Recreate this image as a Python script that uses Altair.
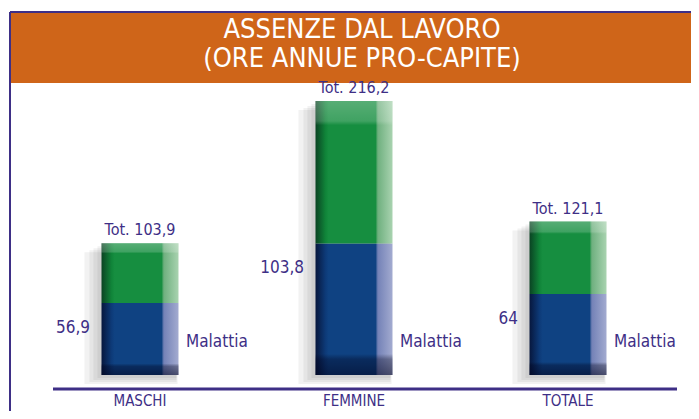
import altair as alt
import pandas as pd

categories = ["MASCHI", "FEMMINE", "TOTALE"]
malattia = [56.9, 103.8, 64.0]
totali = [103.9, 216.2, 121.1]
title_lines = ["ASSENZE DAL LAVORO", "(ORE ANNUE PRO-CAPITE)"]
serie_label = "Malattia"


def fmt(v):
    s = f"{v:.1f}".replace(".", ",")
    return s[:-2] if s.endswith(",0") else s


df = pd.DataFrame({
    "cat": categories,
    "malattia": malattia,
    "totale": totali,
    "tot_lbl": ["Tot. " + fmt(v) for v in totali],
    "mal_lbl": [fmt(v) for v in malattia],
    "serie": [serie_label] * len(categories),
})

FONT = "DejaVu Sans Condensed, Liberation Sans Narrow, sans-serif"
PURPLE = "#3E2F86"
ORANGE = "#CF6519"

xscale = alt.Scale(domain=categories, range=[25, 667], paddingInner=0, paddingOuter=0)
yscale = alt.Scale(domain=[0, 289.6], range=[367, 0], nice=False, zero=True)
X = alt.X("cat:N", sort=categories, scale=xscale, axis=None)


def Y(f):
    return alt.Y(f, scale=yscale, axis=None)


def hgrad(stops):
    return {"gradient": "linear", "x1": 0, "x2": 1, "y1": 0, "y2": 0,
            "stops": [{"offset": o, "color": c} for o, c in stops]}


def vgrad(stops):
    return {"gradient": "linear", "x1": 0, "x2": 0, "y1": 0, "y2": 1,
            "stops": [{"offset": o, "color": c} for o, c in stops]}


green = hgrad([(0, "#0A4323"), (0.13, "#108439"), (0.17, "#168E40"),
               (0.78, "#168E40"), (0.81, "#6FB07F"), (1, "#A9D3B0")])
blue = hgrad([(0, "#07173D"), (0.13, "#0D3A78"), (0.17, "#0F4282"),
              (0.78, "#0F4282"), (0.81, "#7482B7"), (1, "#A3ABD0")])
top_hl = vgrad([(0, "rgba(255,255,255,0.28)"), (0.14, "rgba(255,255,255,0.18)"),
                (0.17, "rgba(255,255,255,0)"), (1, "rgba(255,255,255,0)")])
bot_dk = vgrad([(0, "rgba(0,0,20,0)"), (0.84, "rgba(0,0,20,0)"),
                (0.88, "rgba(0,0,25,0.35)"), (1, "rgba(0,0,25,0.55)")])

base = alt.Chart(df).encode(x=X)

shadows = [
    base.mark_bar(size=s, color="#4a4a4a", opacity=0.07, xOffset=-o, yOffset=o).encode(y=Y("totale:Q"))
    for s, o in [(93, 9), (87, 7), (83, 5), (79, 3)]
]

blue_bar = base.mark_bar(size=77, color=blue).encode(y=Y("malattia:Q"))
green_bar = base.mark_bar(size=77, color=green).encode(y=Y("malattia:Q"), y2="totale:Q")
green_hl = base.mark_bar(size=77, color=top_hl).encode(y=Y("malattia:Q"), y2="totale:Q")
blue_dk = base.mark_bar(size=77, color=bot_dk).encode(y=Y("malattia:Q"))

tot_txt = base.mark_text(font=FONT, fontSize=16, color=PURPLE, baseline="bottom", dy=-5).encode(
    y=Y("totale:Q"), text="tot_lbl:N")
mal_txt = base.mark_text(font=FONT, fontSize=17, color=PURPLE, align="right", baseline="middle",
                         dx=-50, dy=25).encode(y=Y("malattia:Q"), text="mal_lbl:N")
ser_txt = base.mark_text(font=FONT, fontSize=17, color=PURPLE, align="left", baseline="middle",
                         dx=46, dy=-33).encode(y=alt.datum(0), text="serie:N")
cat_txt = base.mark_text(font=FONT, fontSize=15, color=PURPLE, baseline="alphabetic").encode(
    y=alt.value(398), text="cat:N")

one0 = alt.Chart(pd.DataFrame({"k": [0]}))

orange_box = one0.mark_rect(color=ORANGE).encode(
    x=alt.value(3), x2=alt.value(700), y=alt.value(5), y2=alt.value(75))
frame_top = one0.mark_rule(color=PURPLE, strokeWidth=2).encode(
    x=alt.value(2), x2=alt.value(700), y=alt.value(4))
frame_left = one0.mark_rule(color=PURPLE, strokeWidth=2).encode(
    x=alt.value(2), y=alt.value(4), y2=alt.value(420))
axis_line = one0.mark_rule(color=PURPLE, strokeWidth=3).encode(
    x=alt.value(45), x2=alt.value(669), y=alt.value(381))

title1 = alt.Chart(pd.DataFrame({"t": [title_lines[0]]})).mark_text(
    font=FONT, fontSize=27, color="white", baseline="alphabetic").encode(
    x=alt.value(354), y=alt.value(30), text="t:N")
title2 = alt.Chart(pd.DataFrame({"t": [title_lines[1]]})).mark_text(
    font=FONT, fontSize=27, color="white", baseline="alphabetic").encode(
    x=alt.value(354), y=alt.value(59), text="t:N")

chart = alt.layer(
    orange_box, frame_top, frame_left, title1, title2,
    *shadows, blue_bar, green_bar, green_hl, blue_dk,
    axis_line, tot_txt, mal_txt, ser_txt, cat_txt,
).resolve_scale(x="shared", y="shared").properties(
    width=683, height=403, padding=0, autosize="none", background="white"
).configure_view(stroke=None)

chart.save("out.html", embed_options={"renderer": "svg", "actions": False})
